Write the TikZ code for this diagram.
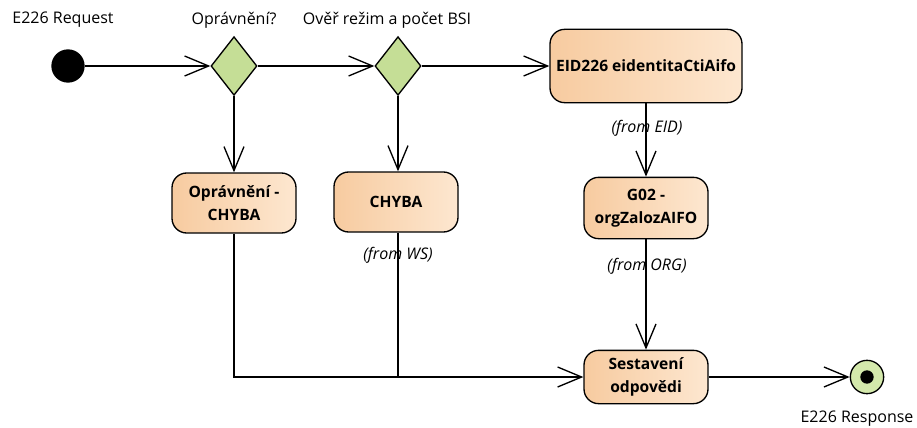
\documentclass[tikz,border=0pt]{standalone}
\usepackage{fontspec}
\setmainfont{Open Sans}
\usetikzlibrary{arrows.meta,shapes.geometric}
\definecolor{akceL}{RGB}{247,203,160}
\definecolor{akceR}{RGB}{253,231,208}
\definecolor{rozhod}{RGB}{197,222,150}
\definecolor{konecfill}{RGB}{212,233,172}

\begin{document}
\begin{tikzpicture}[x=0.75pt,y=-0.75pt,
  font=\fontsize{12}{14}\selectfont,
  tok/.style={line width=1pt,-{Straight Barb[length=18pt,width=15pt,line width=1pt]}},
  akce/.style={draw,line width=1pt,rounded corners=11pt,left color=akceL,right color=akceR,
    align=center,font=\fontsize{11.7}{17}\selectfont\bfseries,inner sep=2pt,minimum width=93pt,minimum height=45pt},
  rozh/.style={diamond,draw,line width=1pt,fill=rozhod,inner sep=0pt,minimum width=34.5pt,minimum height=44pt},
  popis/.style={inner sep=1pt},
  odkud/.style={inner sep=1pt,font=\fontsize{12}{14}\selectfont\itshape}]
\useasboundingbox (0,0) rectangle (917,428);

\node[circle,fill=black,inner sep=0pt,minimum size=25pt] (start) at (68,66) {};
\node[popis] (lstart) at (63,20) {E226 Request};

\node[rozh] (opr) at (234,66) {};
\node[popis] (lopr) at (234,20) {Oprávnění?};
\node[rozh] (over) at (398,66) {};
\node[popis] (lover) at (387,20) {Ověř režim a počet BSI};

\node[akce,minimum width=144pt,minimum height=55pt] (eid) at (646,66) {EID226 eidentitaCtiAifo};
\node[odkud] (leid) at (647,128) {(from EID)};

\node[akce] (oprchyba) at (234,203) {Oprávnění -\\CHYBA};
\node[akce] (chyba) at (396,202) {CHYBA};
\node[odkud] (lchyba) at (398,255) {(from WS)};

\node[akce,minimum height=46pt] (g02) at (646,208) {G02 -\\orgZalozAIFO};
\node[odkud] (lg02) at (647,266) {(from ORG)};

\node[akce,minimum height=40pt] (sest) at (646,377) {Sestavení\\odpovědi};

\node[circle,draw,line width=1pt,fill=konecfill,inner sep=0pt,minimum size=25pt] (konec) at (867,377) {};
\fill[black] (konec.center) circle (5pt);
\node[popis] (lkonec) at (857,419) {E226 Response};

\draw[tok] (start) -- (opr.west);
\draw[tok] (opr.east) -- (over.west);
\draw[tok] (over.east) -- (eid.west);
\draw[tok] (opr.south) -- (oprchyba.north);
\draw[tok] (over.south) -- (over.south |- chyba.north);
\draw[tok] (eid.south) -- (g02.north);
\draw[tok] (g02.south) -- (sest.north);
\draw[tok] (oprchyba.south) |- (sest.west);
\draw[line width=1pt] (chyba.south -| lchyba) -- (lchyba |- sest.west);
\draw[tok] (sest.east) -- (konec.west);
\end{tikzpicture}
\end{document}
